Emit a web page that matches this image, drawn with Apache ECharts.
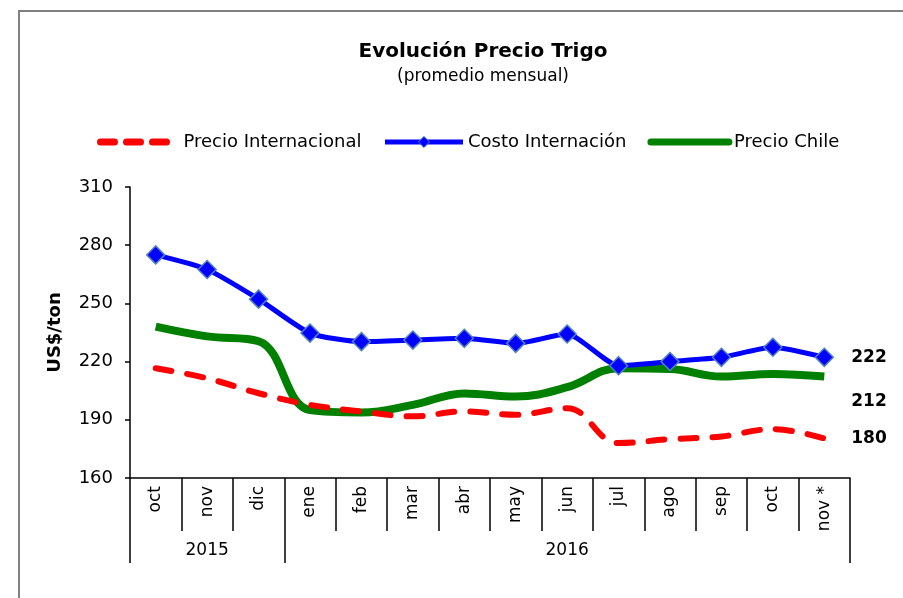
<!DOCTYPE html>
<html>
<head>
<meta charset="utf-8">
<title>Evolución Precio Trigo</title>
<script src="https://cdn.jsdelivr.net/npm/echarts@6.0.0/dist/echarts.min.js"></script>
<style>
  html, body { margin: 0; padding: 0; background: #fff; }
  #main { width: 903px; height: 598px; }
</style>
</head>
<body>
<div id="main"></div>
<script>
// categorias del eje (meses) y fila de años debajo
var meses = ['oct', 'nov', 'dic', 'ene', 'feb', 'mar', 'abr', 'may', 'jun', 'jul', 'ago', 'sep', 'oct', 'nov *']
var anios = ['', '2015', '', '', '', '', '', '', '2016', '', '', '', '', '']
// cortes de la fila de años (indice del primer mes de cada año)
var cortesAnio = [0, 3]

// valores (US$/ton)
var precioInternacional = [216.6, 211.4, 203.7, 197.7, 194.3, 191.8, 194.3, 192.6, 196, 178, 180, 181.4, 185.2, 180.4]
var costoInternacion = [275, 267.5, 252.2, 234.7, 230.3, 231.1, 232, 229.4, 234.2, 217.9, 220, 222.2, 227.4, 222.2]
var precioChile = [238, 233, 230.5, 195, 193.8, 197.7, 203.6, 202, 206.8, 216.6, 216.2, 212.3, 213.6, 212.3]

var fuente = 'DejaVu Sans'

var myChart = echarts.init(document.getElementById('main'))

// etiqueta al final de cada serie
function etiquetaFinal(offsetY) {
  return {
    show: true,
    formatter: function (p) { return Math.round(p.value) },
    distance: 27,
    offset: [0, offsetY],
    color: '#000',
    fontFamily: fuente,
    fontWeight: 'bold',
    fontSize: 17
  }
}

var option = {
  animation: false,
  backgroundColor: '#fff',
  title: {
    text: 'Evolución Precio Trigo',
    subtext: '(promedio mensual)',
    left: 478,
    top: 37,
    textAlign: 'center',
    itemGap: 6,
    textStyle: { fontFamily: fuente, fontWeight: 'bold', fontSize: 20, color: '#000' },
    subtextStyle: { fontFamily: fuente, fontSize: 17, color: '#000' }
  },
  legend: {
    left: 92,
    top: 128,
    itemWidth: 78,
    itemHeight: 14,
    itemGap: 21,
    textStyle: { fontFamily: fuente, fontSize: 18, color: '#000' },
    data: [
      {
        name: 'Precio Internacional',
        itemStyle: { opacity: 0 },
        lineStyle: { color: '#ff0000', width: 7, type: [14, 12], cap: 'round' }
      },
      {
        name: 'Costo Internación',
        itemStyle: { color: '#0000ff', borderColor: '#4f81bd', borderWidth: 1 },
        lineStyle: { color: '#0000ff', width: 5 }
      },
      {
        name: 'Precio Chile',
        itemStyle: { opacity: 0 },
        lineStyle: { color: '#008000', width: 7, cap: 'round' }
      }
    ]
  },
  grid: { left: 130, right: 53, top: 187, bottom: 120 },
  xAxis: [
    {
      type: 'category',
      data: meses,
      boundaryGap: true,
      axisLine: { lineStyle: { color: '#000', width: 1.5 } },
      axisTick: { show: true, interval: 0, length: 53, lineStyle: { color: '#000', width: 1.5 } },
      axisLabel: { interval: 0, rotate: 90, margin: 8, color: '#000', fontFamily: fuente, fontSize: 17 }
    },
    {
      // fila de años
      type: 'category',
      data: anios,
      position: 'bottom',
      boundaryGap: true,
      axisLine: { show: false },
      axisTick: {
        show: true,
        interval: function (i) { return cortesAnio.indexOf(i) >= 0 },
        length: 85,
        lineStyle: { color: '#000', width: 1.5 }
      },
      axisLabel: { interval: 0, margin: 64, color: '#000', fontFamily: fuente, fontSize: 17 }
    }
  ],
  yAxis: {
    type: 'value',
    min: 160,
    max: 310,
    interval: 30,
    name: 'US$/ton',
    nameLocation: 'middle',
    nameGap: 66,
    nameTextStyle: { fontFamily: fuente, fontWeight: 'bold', fontSize: 18, color: '#000' },
    axisLine: { show: true, lineStyle: { color: '#000', width: 1.5 } },
    axisTick: { show: true, length: 5, lineStyle: { color: '#000', width: 1.5 } },
    axisLabel: { margin: 17, color: '#000', fontFamily: fuente, fontSize: 18 },
    splitLine: { show: false }
  },
  series: [
    {
      name: 'Precio Internacional',
      type: 'line',
      data: precioInternacional,
      smooth: 0.4,
      symbol: 'none',
      color: '#ff0000',
      lineStyle: { color: '#ff0000', width: 6, type: [16, 16], cap: 'round' },
      endLabel: etiquetaFinal(0),
      z: 3
    },
    {
      name: 'Costo Internación',
      type: 'line',
      data: costoInternacion,
      smooth: 0.2,
      symbol: 'diamond',
      symbolSize: 18,
      color: '#0000ff',
      itemStyle: { color: '#0000ff', borderColor: '#4f81bd', borderWidth: 1.5 },
      lineStyle: { color: '#0000ff', width: 5 },
      endLabel: etiquetaFinal(0),
      z: 4
    },
    {
      name: 'Precio Chile',
      type: 'line',
      data: precioChile,
      smooth: 0.4,
      symbol: 'none',
      color: '#008000',
      lineStyle: { color: '#008000', width: 8 },
      endLabel: etiquetaFinal(25),
      z: 2
    }
  ],
  graphic: [
    {
      // marco gris del grafico
      type: 'rect',
      shape: { x: 19, y: 11, width: 2000, height: 2000 },
      style: { fill: 'none', stroke: '#808080', lineWidth: 2 },
      silent: true
    }
  ]
}

myChart.setOption(option)
</script>
</body>
</html>
